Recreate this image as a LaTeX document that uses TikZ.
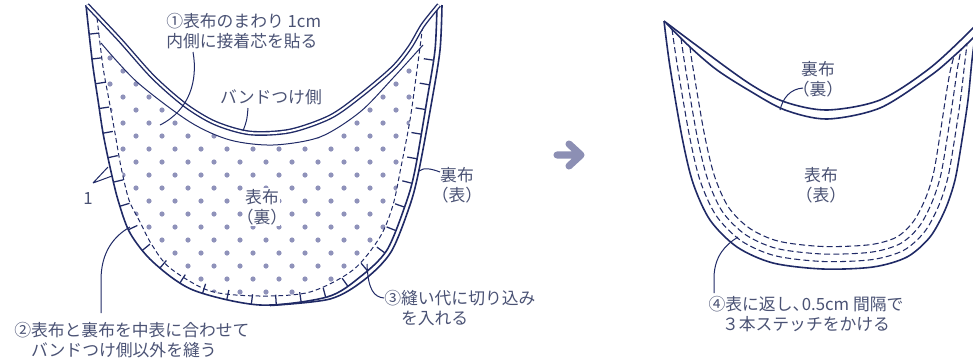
\documentclass[tikz,border=0pt]{standalone}
\usepackage{fontspec}
\setmainfont{Noto Sans CJK JP}
\usetikzlibrary{decorations.markings}
\definecolor{ink}{RGB}{32,42,102}
\definecolor{txt}{RGB}{74,82,116}
\definecolor{dotc}{RGB}{143,146,186}
\definecolor{arrowc}{RGB}{140,143,180}
\newcommand{\pj}[1]{\kern-.5em（#1）\kern-.5em}
\begin{document}
\begin{tikzpicture}[x=0.75pt,y=-0.75pt,
  font=\fontsize{12.6}{15}\selectfont, text=txt,
  ln/.style={ink, line width=1.2pt},
  thinln/.style={ink, line width=0.75pt},
  dsh/.style={ink, line width=0.75pt, dash pattern=on 3.5pt off 2.2pt},
  dshb/.style={ink, line width=0.8pt, dash pattern=on 4.5pt off 2.4pt},
  lead/.style={ink, line width=0.75pt},
  lbl/.style={inner sep=0pt, align=center},
  notchline/.style={decoration={markings, mark=between positions 22pt and -26pt step 18.75pt with {\draw[ink, line width=0.95pt] (0pt,0pt) -- (0pt,7.5pt);}}, postaction={decorate}},
  band/.style={ink, line width=1.05pt, double=white, double distance=1.5pt}
]
\useasboundingbox (0,0) rectangle (973,362);

% ---------- left figure ----------
\begin{scope}
  \clip plot[smooth] coordinates {(97,18) (103,67) (109,100) (115,133) (121,167) (129,200) (140,222) (152,245) (170,268) (210,291) (260,296) (310,292) (353,270) (380,237) (393,205) (401,167) (410,120) (417,70) (423,24)} -- cycle;
  \clip plot[smooth] coordinates {(101,43) (137,82) (190,122) (230,140) (273,145) (320,137) (360,112) (393,78) (423,45)} -- (440,330) -- (90,330) -- cycle;
  \foreach \k in {-10,...,9} {
    \pgfmathsetmacro{\yy}{175+13*\k}
    \pgfmathsetmacro{\xo}{123+13*mod(\k+20,2)}
    \foreach \j in {-1,...,12} \fill[dotc] ({\xo+26*\j},\yy) circle (1.95pt);
  }
\end{scope}

% interfacing edge
\draw[thinln] plot[smooth] coordinates {(101,43) (137,82) (190,122) (230,140) (273,145) (320,137) (360,112) (393,78) (423,45)};
% seam line
\draw[dsh] plot[smooth] coordinates {(97,18) (103,67) (109,100) (115,133) (121,167) (129,200) (140,222) (152,245) (170,268) (210,291) (260,296) (310,292) (353,270) (380,237) (393,205) (401,167) (410,120) (417,70) (423,24)};
% lining edge (right)
\draw[ln] plot[smooth] coordinates {(270,305.5) (330,299) (364,280) (391,252) (410,205) (419,170) (432,100) (440,50) (442,5)};
% outer fabric edge with notches
\draw[ln, notchline] plot[smooth] coordinates {(86,5) (89,33) (93,67) (98,100) (103,133) (110,167) (118,200) (130,233) (153,262) (193,290) (260,305) (327,297) (360,277) (387,250) (406,203) (415,170) (427,100) (435,50) (437,5)};
% band side (double)
\draw[band] plot[smooth] coordinates {(87,5) (120,40) (153,77) (185,105) (215,123) (250,133) (290,131) (330,117) (360,96) (393,68) (410,47) (423,25) (439,5)};

% labels left
\node[lbl, align=left, anchor=west] (t1) at (166,31) {①表布のまわり 1cm\\内側に接着芯を貼る};
\node[lbl] (bandlbl) at (271,97) {バンドつけ側};
\node[lbl, fill=white, inner sep=1pt] (omoteL) at (262,207) {表布\\\pj{裏}};
\node[lbl] (uraL) at (457,185) {裏布\\\pj{表}};
\node[lbl] (one) at (88,199) {1};
\node[lbl, align=left, anchor=west] (t3) at (384,308) {③縫い代に切り込み\\\hspace*{1em}を入れる};
\node[lbl, align=left, anchor=west] (t2) at (14,340) {②表布と裏布を中表に合わせて\\\hspace*{1em}バンドつけ側以外を縫う};

% leader coordinates
\coordinate (l1a) at (193,52);
\coordinate (l1b) at (160,125);
\coordinate (lba) at (248,108);
\coordinate (lbb) at (243,131);
\coordinate (lua) at (440,172);
\coordinate (lub) at (419,171);
\coordinate (loa) at (93,183);
\coordinate (lob1) at (108,167);
\coordinate (lob2) at (112,176);
\coordinate (l3a) at (384,298);
\coordinate (l3b) at (367,264);
\coordinate (l2a) at (101,313);
\coordinate (l2b) at (130,227);

\draw[lead] (l1a) .. controls (198,80) and (190,110) .. (l1b);
\draw[lead] (lba) .. controls (247,120) .. (lbb);
\draw[lead] (lua) .. controls (432,169) and (424,167) .. (lub);
\draw[lead] (loa) -- (lob1) (loa) -- (lob2);
\draw[lead] (l3a) .. controls (374,297) and (368,290) .. (l3b);
\draw[lead] (l2a) -- (101,280) .. controls (101,252) and (114,236) .. (l2b);

% ---------- arrow ----------
\draw[arrowc, line width=5.3pt, line cap=round, line join=round] (557,155) -- (580,155) (569,144) -- (581,155) -- (569,166);

% ---------- right figure ----------
\draw[dshb] plot[smooth] coordinates {(672,29) (677.4,66) (689.4,135.6) (700.1,180.6) (716.2,215.7) (741.2,240.8) (774.9,255.7) (823,261.5) (872,259.6) (903.5,250.4) (924.4,232) (938.3,206.7) (947.8,177.9) (954.6,138.9) (960.5,99.3) (964.5,65) (967,44)};
\draw[dshb] plot[smooth] coordinates {(681,38) (684.9,64.8) (696.7,134.2) (707.3,178.2) (722.3,211.5) (745.4,234.6) (776.8,248.5) (823,254) (870.9,252.2) (900,243.8) (918.8,227) (931.5,203.4) (940.6,175.8) (947.2,137.8) (953.1,98.5) (957.5,68) (961,50)};
\draw[dshb] plot[smooth] coordinates {(690,47) (692.3,63.6) (704.1,132.7) (714.4,175.8) (728.5,207.2) (749.6,228.3) (778.6,241.2) (823,246.5) (869.9,244.7) (896.4,237.2) (913,222) (924.8,200.1) (933.4,173.7) (939.7,136.6) (945.6,97.8) (950,72) (954,56)};
\draw[ln] plot[smooth] coordinates {(664,21) (670,67) (682,137) (693,183) (710,220) (737,247) (773,263) (823,269) (873,267) (907,257) (930,237) (945,210) (955,180) (962,140) (968,100) (972,60) (976,30) (980,10)};
\draw[ln] plot[smooth] coordinates {(664,21) (700,48) (750,84) (785,102) (827,110) (880,100) (930,68) (973,28) (990,8)};
\draw[ln] plot[smooth] coordinates {(666,23) (690,47) (717,70) (750,91) (785,110) (827,119) (880,108) (930,76) (954,56) (975,36) (990,20)};

\node[lbl] (uraR) at (818,79) {裏布\\\pj{裏}};
\node[lbl] (omoteR) at (821,185) {表布\\\pj{表}};
\node[lbl] (t4) at (806,314) {④表に返し、\kern-.45em 0.5cm 間隔で\\３本ステッチをかける};

\coordinate (lra) at (803,88);
\coordinate (lrb) at (780,110);
\coordinate (l4a) at (714,293);
\coordinate (l4b) at (738,237);
\draw[lead] (lra) .. controls (790,89) and (783,98) .. (lrb);
\draw[lead] (l4a) -- (714,276) .. controls (715,256) and (725,245) .. (l4b);
\end{tikzpicture}
\end{document}
